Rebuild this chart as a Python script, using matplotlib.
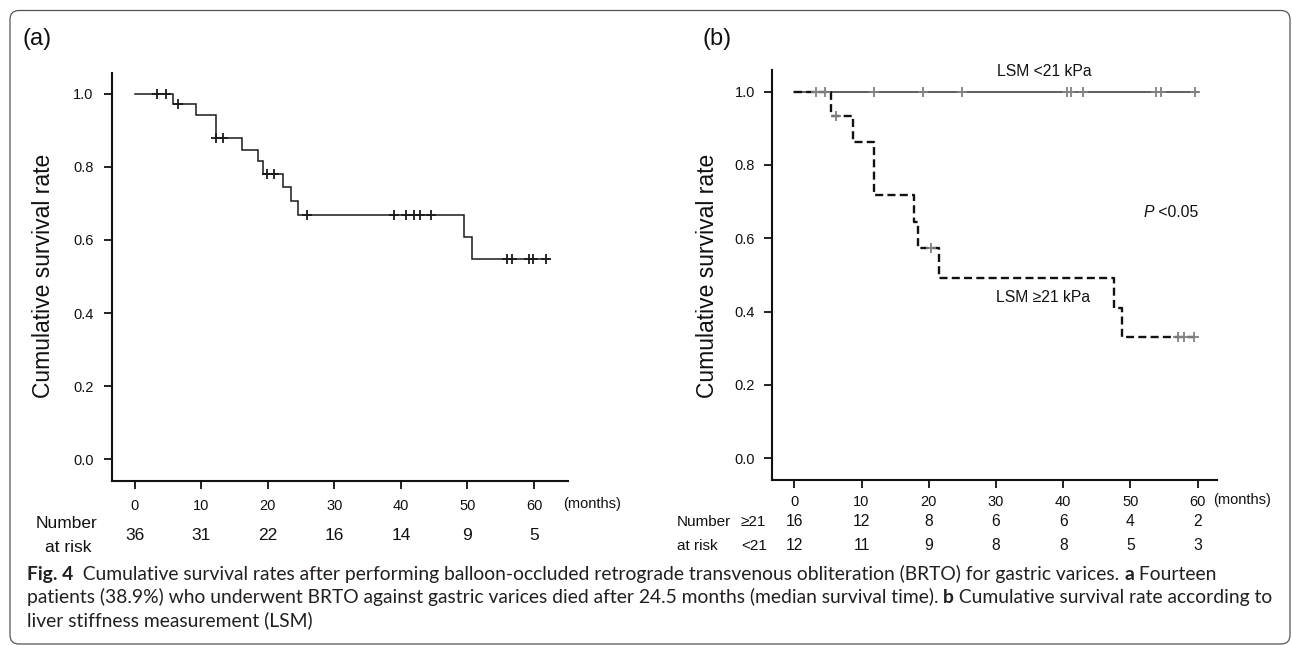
import matplotlib
matplotlib.use("Agg")
import matplotlib.pyplot as plt
from matplotlib import transforms
from matplotlib.patches import FancyBboxPatch
from matplotlib.ticker import FormatStrFormatter
import numpy as np

plt.rcParams['font.family'] = ['Liberation Sans', 'DejaVu Sans']

# ---------------- data ----------------
months = [0, 10, 20, 30, 40, 50, 60]

# Panel (a): all patients
a_event_t = [0, 5.8, 9.2, 12.3, 16.2, 18.5, 19.3, 22.3, 23.5, 24.6, 49.4, 50.7]
a_surv = [1.0, 0.972, 0.941, 0.880, 0.847, 0.816, 0.780, 0.744, 0.707, 0.669, 0.609, 0.548]
a_end = 62.3
a_censor_t = [3.4, 4.8, 6.5, 12.3, 13.3, 19.9, 21.0, 25.9, 39.0, 40.8, 41.9, 42.8,
              44.5, 55.9, 56.7, 59.2, 59.8, 61.8]
a_risk = [36, 31, 22, 16, 14, 9, 5]

# Panel (b): LSM groups
lo_event_t = [0]
lo_surv = [1.0]
lo_end = 60.1
lo_censor_t = [3.3, 4.6, 11.9, 19.2, 24.9, 40.5, 41.1, 42.9, 53.8, 54.6, 59.6]

hi_event_t = [0, 5.5, 8.8, 11.8, 17.8, 18.4, 21.5, 47.6, 48.8]
hi_surv = [1.0, 0.935, 0.864, 0.718, 0.645, 0.574, 0.493, 0.410, 0.330]
hi_end = 59.6
hi_censor_t = [6.2, 20.3, 57.1, 57.9, 59.5]

b_risk_hi = [16, 12, 8, 6, 6, 4, 2]
b_risk_lo = [12, 11, 9, 8, 8, 5, 3]

yticks = [0.0, 0.2, 0.4, 0.6, 0.8, 1.0]

# ---------------- figure ----------------
W, H = 1292, 645
fig = plt.figure(figsize=(W / 100, H / 100), dpi=100)
renderer = fig.canvas.get_renderer()


def fx(px):
    return px / W


def fy(py):
    return 1 - py / H


def surv_at(t, ev, s):
    idx = 0
    for i, e in enumerate(ev):
        if e <= t:
            idx = i
    return s[idx]


def km(ax, ev, s, end, cens, color, lw, dashes=None, ccolor=None):
    x = list(ev) + [end]
    y = list(s) + [s[-1]]
    ln, = ax.plot(x, y, drawstyle='steps-post', color=color, lw=lw,
                  solid_joinstyle='miter', zorder=3)
    if dashes is not None:
        ln.set_dashes(dashes)
    cy = [surv_at(t, ev, s) for t in cens]
    ax.plot(cens, cy, ls='none', marker='+', ms=6.5, mew=1.3,
            color=ccolor or color, zorder=4)


def style_axes(ax, xpad, ypad):
    for sp in ['top', 'right']:
        ax.spines[sp].set_visible(False)
    for sp in ['left', 'bottom']:
        ax.spines[sp].set_linewidth(1.5)
        ax.spines[sp].set_color('#111111')
    ax.set_xticks(months)
    ax.set_yticks(yticks)
    ax.yaxis.set_major_formatter(FormatStrFormatter('%.1f'))
    ax.tick_params(axis='x', length=5.5, width=1.3, pad=xpad, labelsize=10.5,
                   colors='#111111')
    ax.tick_params(axis='y', length=6, width=1.3, pad=ypad, labelsize=10.5,
                   colors='#111111')
    ax.patch.set_alpha(0)


# Panel (a)
axA = fig.add_axes([fx(111.7), fy(480.7), (567.7 - 111.7) / W, (480.7 - 73) / H])
axA.set_xlim((111.7 - 134.5) / 6.66, (567.7 - 134.5) / 6.66)
axA.set_ylim(-0.059, 1.057)
style_axes(axA, 8, 7)
km(axA, a_event_t, a_surv, a_end, a_censor_t, '#1a1a1a', 1.1)

# Panel (b)
axB = fig.add_axes([fx(772.3), fy(480), (1216.7 - 772.3) / W, 410 / H])
axB.set_xlim((772.3 - 794.3) / 6.723, (1216.7 - 794.3) / 6.723)
axB.set_ylim(-0.0595, 1.0592)
style_axes(axB, 5.5, 6.5)
km(axB, lo_event_t, lo_surv, lo_end, lo_censor_t, '#333333', 1.1, ccolor='#808080')
km(axB, hi_event_t, hi_surv, hi_end, hi_censor_t, '#111111', 1.7,
   dashes=(3.4, 1.8), ccolor='#808080')

# y labels
for xc in (44, 707):
    fig.text(fx(xc), fy(276), 'Cumulative survival rate', rotation=90,
             ha='center', va='center', fontsize=16.5, color='#111111')

# panel letters
fig.text(fx(22.5), fy(39), '(a)', ha='left', va='center', fontsize=17, color='#111111')
fig.text(fx(703), fy(39), '(b)', ha='left', va='center', fontsize=17, color='#111111')

# (months)
fig.text(fx(563), fy(504), '(months)', ha='left', va='center', fontsize=10.5, color='#111111')
fig.text(fx(1213), fy(500), '(months)', ha='left', va='center', fontsize=10.5, color='#111111')

# annotations panel (b)
fig.text(fx(1044), fy(71), 'LSM <21 kPa', ha='center', va='center', fontsize=11.3, color='#111111')
fig.text(fx(1043), fy(298), 'LSM \u226521 kPa', ha='center', va='center', fontsize=11.3, color='#111111')
tp = fig.text(fx(1198), fy(212), ' <0.05', ha='right', va='center', fontsize=11.3, color='#111111')
pw = tp.get_window_extent(renderer).width
fig.text(fx(1198 - pw), fy(212), 'P', ha='right', va='center', fontsize=11.3,
         style='italic', color='#111111')

# risk tables
trA = transforms.blended_transform_factory(axA.transData, fig.transFigure)
for m, n in zip(months, a_risk):
    axA.text(m, fy(535), str(n), transform=trA, ha='center', va='center',
             fontsize=12.5, color='#111111', clip_on=False)
fig.text(fx(36), fy(523), 'Number', ha='left', va='center', fontsize=12.5, color='#111111')
fig.text(fx(45), fy(548), 'at risk', ha='left', va='center', fontsize=12.5, color='#111111')

trB = transforms.blended_transform_factory(axB.transData, fig.transFigure)
for m, n1, n2 in zip(months, b_risk_hi, b_risk_lo):
    axB.text(m, fy(522), str(n1), transform=trB, ha='center', va='center',
             fontsize=11.3, color='#111111', clip_on=False)
    axB.text(m, fy(546), str(n2), transform=trB, ha='center', va='center',
             fontsize=11.3, color='#111111', clip_on=False)
fig.text(fx(677), fy(522), 'Number', ha='left', va='center', fontsize=11, color='#111111')
fig.text(fx(677), fy(546), 'at risk', ha='left', va='center', fontsize=11, color='#111111')
fig.text(fx(741), fy(522), '\u226521', ha='left', va='center', fontsize=11, color='#111111')
fig.text(fx(741), fy(546), '<21', ha='left', va='center', fontsize=11, color='#111111')

# caption
capfam = ['Lato', 'DejaVu Sans']
capcol = '#231f20'
lines = [
    [("Fig. 4", 'bold'),
     ("  Cumulative survival rates after performing balloon-occluded retrograde transvenous "
      "obliteration (BRTO) for gastric varices. ", 'normal'),
     ("a", 'bold'), (" Fourteen", 'normal')],
    [("patients (38.9%) who underwent BRTO against gastric varices died after 24.5 months "
      "(median survival time). ", 'normal'),
     ("b", 'bold'), (" Cumulative survival rate according to", 'normal')],
    [("liver stiffness measurement (LSM)", 'normal')],
]


def line_width(pieces, size):
    w = 0
    for s, wt in pieces:
        t = fig.text(0, 0, s, fontsize=size, fontweight=wt, family=capfam)
        w += t.get_window_extent(renderer).width
        t.remove()
    return w


ref = line_width(lines[0], 12) + line_width(lines[1], 12)
capsize = 12 * ((1228 - 27) + (1255 - 27)) / ref
for pieces, yb in zip(lines, (580, 603, 626)):
    x = 27
    for s, wt in pieces:
        t = fig.text(fx(x), fy(yb), s, fontsize=capsize, fontweight=wt, family=capfam,
                     color=capcol, ha='left', va='baseline')
        x += t.get_window_extent(renderer).width

# border
border = FancyBboxPatch((10, 1), 1280, 633.5, boxstyle='round,pad=0,rounding_size=9',
                        transform=transforms.IdentityTransform(), fill=False,
                        edgecolor='#555555', lw=0.9)
fig.patches.append(border)

fig.savefig('out.png', dpi=100)
